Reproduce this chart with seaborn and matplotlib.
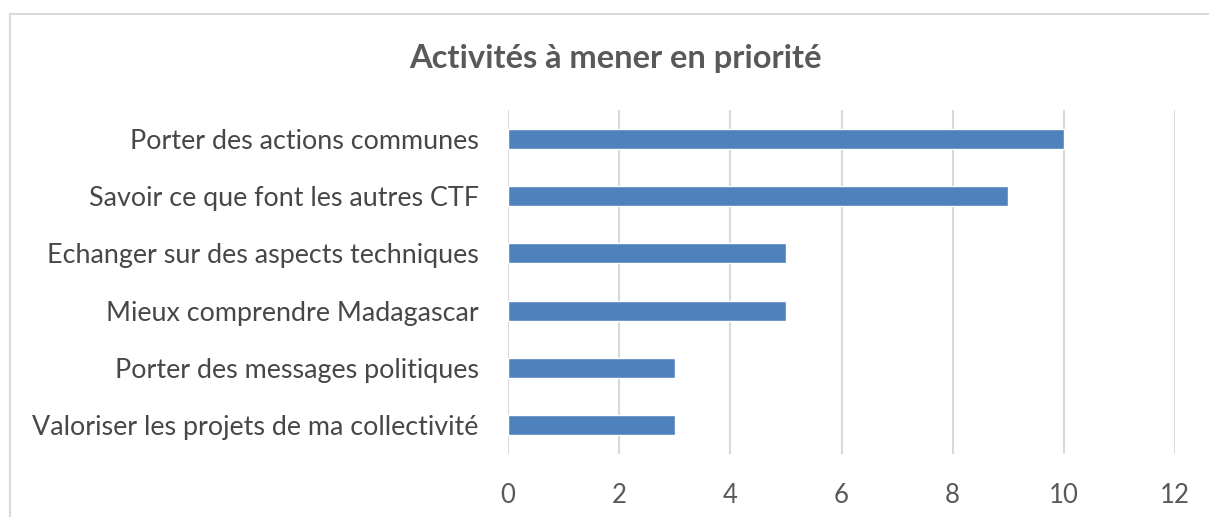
import matplotlib
matplotlib.use("Agg")
import matplotlib.pyplot as plt
import seaborn as sns
import pandas as pd
from matplotlib.patches import Rectangle

categories = [
    "Porter des actions communes",
    "Savoir ce que font les autres CTF",
    "Echanger sur des aspects techniques",
    "Mieux comprendre Madagascar",
    "Porter des messages politiques",
    "Valoriser les projets de ma collectivité",
]
values = [10, 9, 5, 5, 3, 3]
x_ticks = [0, 2, 4, 6, 8, 10, 12]
title = "Activités à mener en priorité"

sns.set_style("white")
plt.rcParams['font.family'] = ['Lato', 'DejaVu Sans']

df = pd.DataFrame({'activite': categories, 'nombre': values})

fig = plt.figure(figsize=(12.09, 5.17), dpi=100)
ax = fig.add_axes([508 / 1209, 1 - 454 / 517, 667 / 1209, 344 / 517])

sns.barplot(data=df, y='activite', x='nombre', color='#4F81BD',
            width=0.35, saturation=1, ax=ax, zorder=3)

ax.set_xlim(0, 12)
ax.set_xticks(x_ticks)
ax.set_xticklabels([str(t) for t in x_ticks], fontsize=18.5, color='#595959')
ax.tick_params(axis='x', length=0, pad=21)
ax.tick_params(axis='y', length=0, pad=21, labelsize=19.4, labelcolor='#474747')
ax.grid(axis='x', color='#D9D9D9', linewidth=1.5, zorder=0)
for s in ax.spines.values():
    s.set_visible(False)
ax.set_xlabel('')
ax.set_ylabel('')

fig.text(615 / 1209, 1 - 58 / 517, title, ha='center', va='center',
         fontsize=23.5, fontweight='bold', color='#595959')

# chart border
fig.patches.append(Rectangle((10 / 1209, -0.1), 1.2, 1 - 14 / 517 + 0.1,
                             transform=fig.transFigure, fill=False,
                             edgecolor='#D9D9D9', linewidth=1.5))

fig.savefig('out.png', dpi=100)
plt.close(fig)
